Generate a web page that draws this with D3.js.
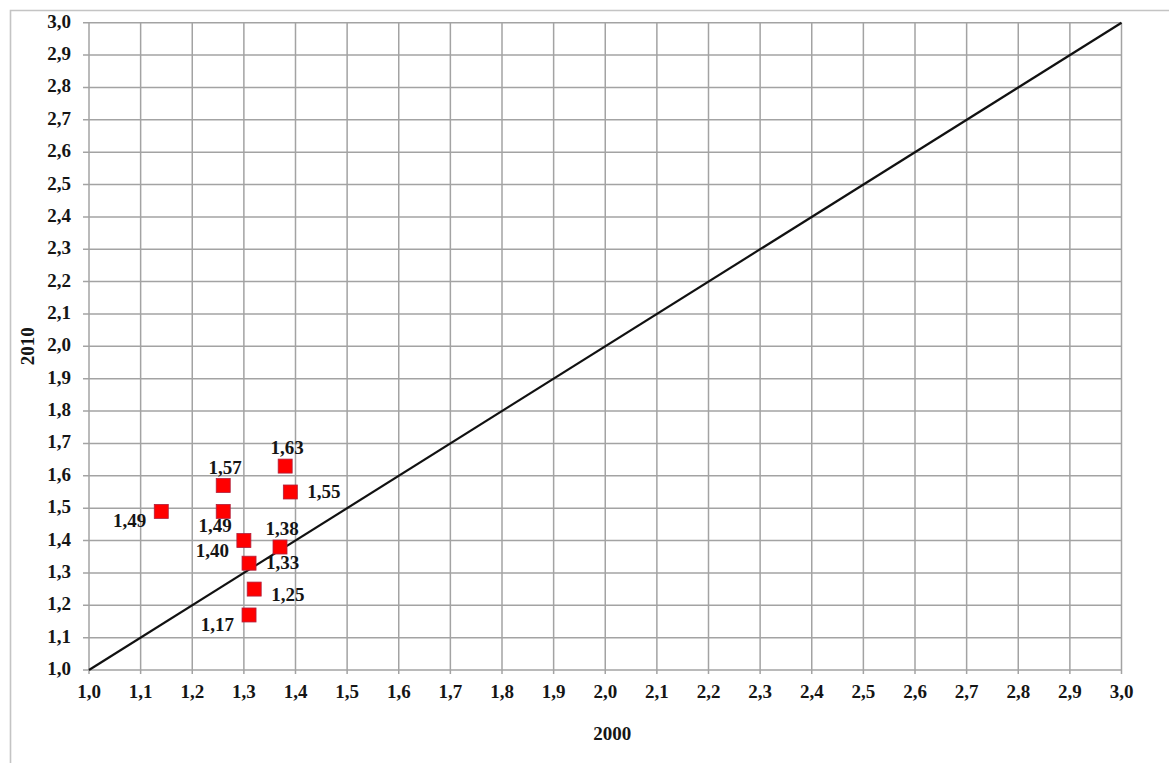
<!DOCTYPE html>
<html>
<head>
<meta charset="utf-8">
<script src="https://cdn.jsdelivr.net/npm/d3@7"></script>
<style>
  body { margin: 0; background: #fff; }
  svg text { font-family: "Liberation Serif", "Times New Roman", serif; font-weight: bold; fill: #151515; }
</style>
</head>
<body>
<svg id="chart" width="1169" height="763"></svg>
<script>
// values
const x2000 = [1.14, 1.26, 1.26, 1.38, 1.39, 1.37, 1.30, 1.31, 1.32, 1.31];
const y2010 = [1.49, 1.57, 1.49, 1.63, 1.55, 1.38, 1.40, 1.33, 1.25, 1.17];
const labelSide = ["belowLeft", "above", "below", "above", "right", "above", "belowLeft", "right", "belowRight", "belowLeft"];
const tickValues = d3.range(10, 31).map(d => d / 10);
const refLine = [1.0, 3.0];
const xTitle = "2000";
const yTitle = "2010";

const svg = d3.select("#chart");
const margin = { left: 89, right: 1169 - 1121.5, top: 22.7, bottom: 763 - 670 };
const width = 1169, height = 763;
const fs = "19px";

const ru = d3.formatLocale({ decimal: ",", thousands: " ", grouping: [3], currency: ["", ""] });
const fmt1 = ru.format(".1f");
const fmt2 = ru.format(".2f");

const x = d3.scaleLinear().domain([1, 3]).range([margin.left, width - margin.right]);
const y = d3.scaleLinear().domain([1, 3]).range([height - margin.bottom, margin.top]);

// outer frame (left and top only visible)
svg.append("path")
  .attr("d", `M10.5,${height} V10.5 H${width}`)
  .attr("fill", "none")
  .attr("stroke", "#c4c4c4")
  .attr("stroke-width", 1.6);

const grid = svg.append("g").attr("stroke", "#a3a3a3").attr("stroke-width", 1.5);

grid.selectAll("line.h")
  .data(tickValues)
  .join("line")
  .attr("class", "h")
  .attr("x1", x(1) - 6)
  .attr("x2", x(3))
  .attr("y1", d => y(d))
  .attr("y2", d => y(d));

grid.selectAll("line.v")
  .data(tickValues)
  .join("line")
  .attr("class", "v")
  .attr("x1", d => x(d))
  .attr("x2", d => x(d))
  .attr("y1", y(3))
  .attr("y2", y(1) + 4);

// tick labels
svg.append("g")
  .selectAll("text")
  .data(tickValues)
  .join("text")
  .attr("x", x(1) - 18)
  .attr("y", d => y(d) + 5)
  .attr("text-anchor", "end")
  .style("font-size", fs)
  .text(d => fmt1(d));

svg.append("g")
  .selectAll("text")
  .data(tickValues)
  .join("text")
  .attr("x", d => x(d))
  .attr("y", y(1) + 28)
  .attr("text-anchor", "middle")
  .style("font-size", fs)
  .text(d => fmt1(d));

// axis titles
svg.append("text")
  .attr("x", (x(1) + x(3)) / 2 + 7)
  .attr("y", 740)
  .attr("text-anchor", "middle")
  .style("font-size", fs)
  .text(xTitle);

svg.append("text")
  .attr("transform", `translate(34,${(y(1) + y(3)) / 2}) rotate(-90)`)
  .attr("text-anchor", "middle")
  .style("font-size", fs)
  .text(yTitle);

// diagonal reference line
svg.append("line")
  .attr("x1", x(refLine[0]))
  .attr("y1", y(refLine[0]))
  .attr("x2", x(refLine[1]))
  .attr("y2", y(refLine[1]))
  .attr("stroke", "#111")
  .attr("stroke-width", 2.2);

// points
const pts = x2000.map((d, i) => ({ x: d, y: y2010[i], side: labelSide[i] }));
const size = 14;

svg.append("g")
  .selectAll("rect")
  .data(pts)
  .join("rect")
  .attr("x", d => x(d.x) - size / 2)
  .attr("y", d => y(d.y) - size / 2)
  .attr("width", size)
  .attr("height", size)
  .attr("fill", "#ff0000")
  .attr("stroke", "#b0203c")
  .attr("stroke-width", 0.8);

const place = {
  above: { dx: 2, dy: -12, anchor: "middle" },
  below: { dx: -8, dy: 21, anchor: "middle" },
  right: { dx: 17, dy: 6, anchor: "start" },
  belowRight: { dx: 17, dy: 12, anchor: "start" },
  belowLeft: { dx: -15, dy: 16, anchor: "end" }
};

svg.append("g")
  .selectAll("text")
  .data(pts)
  .join("text")
  .attr("x", d => x(d.x) + place[d.side].dx)
  .attr("y", d => y(d.y) + place[d.side].dy)
  .attr("text-anchor", d => place[d.side].anchor)
  .style("font-size", fs)
  .text(d => fmt2(d.y));
</script>
</body>
</html>
